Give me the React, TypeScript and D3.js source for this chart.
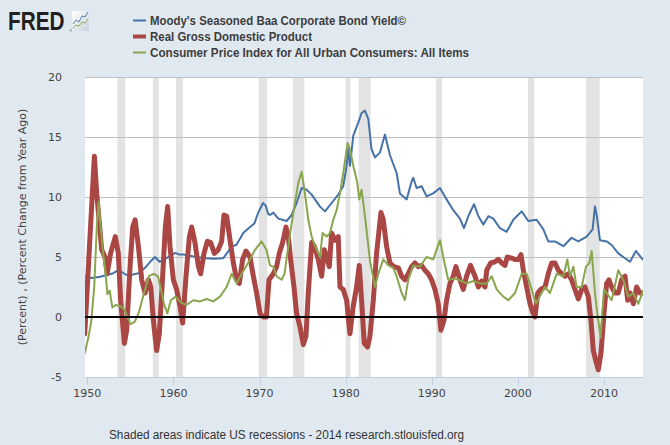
import React from "react";
import * as d3 from "d3";

const recessionStarts = [1953.5, 1957.6, 1960.3, 1969.9, 1973.85, 1980.0, 1981.5, 1990.5, 2001.17, 2007.92];
const recessionEnds = [1954.4, 1958.3, 1961.1, 1970.9, 1975.2, 1980.55, 1982.9, 1991.2, 2001.9, 2009.5];

const xTicks = [1950, 1960, 1970, 1980, 1990, 2000, 2010];
const yTicks = [-5, 0, 5, 10, 15, 20];

const legendLabels = [
  "Moody's Seasoned Baa Corporate Bond Yield\u00a9",
  "Real Gross Domestic Product",
  "Consumer Price Index for All Urban Consumers: All Items",
];

const baaSeries: [number, number][] = [
  [1949.65, 3.37], [1950.5, 3.25], [1951.5, 3.35], [1952.3, 3.5], [1953.0, 3.65], [1953.6, 3.9],
  [1954.57, 3.5], [1955.3, 3.55], [1955.93, 3.65], [1956.7, 4.1], [1957.3, 4.6], [1957.86, 5.0],
  [1958.4, 4.6], [1959.2, 4.9], [1960.2, 5.35], [1960.7, 5.2], [1961.15, 5.2], [1962.7, 5.0],
  [1963.8, 4.9], [1964.63, 4.85], [1965.79, 4.9], [1966.3, 5.4], [1966.76, 5.9], [1967.3, 6.0],
  [1967.8, 6.6], [1968.1, 7.0], [1968.89, 7.5], [1969.4, 7.8], [1969.85, 8.7], [1970.4, 9.5],
  [1970.7, 9.3], [1971.0, 8.6], [1971.21, 8.5], [1971.6, 8.7], [1972.18, 8.2], [1973.14, 8.0],
  [1973.73, 8.5], [1974.3, 9.5], [1974.89, 10.75], [1975.47, 10.6], [1976.05, 10.2], [1977.02, 9.2],
  [1977.6, 8.8], [1978.37, 9.5], [1979.14, 10.2], [1979.72, 10.9], [1980.1, 12.5], [1980.3, 14.0],
  [1980.5, 12.6], [1980.88, 15.1], [1981.46, 16.2], [1981.85, 17.0], [1982.24, 17.2], [1982.63, 16.5],
  [1983.0, 14.0], [1983.4, 13.3], [1983.98, 13.7], [1984.56, 15.2], [1985.14, 13.5], [1985.92, 12.0],
  [1986.3, 10.3], [1987.08, 9.8], [1987.66, 11.3], [1987.85, 11.6], [1988.24, 10.75], [1988.82, 10.9],
  [1989.4, 10.05], [1990.17, 10.3], [1990.95, 10.75], [1991.72, 9.8], [1992.5, 8.9], [1993.27, 8.2],
  [1993.74, 7.4], [1994.3, 8.5], [1994.91, 9.4], [1995.41, 8.4], [1995.99, 7.7], [1996.57, 8.4],
  [1997.15, 8.2], [1997.92, 7.4], [1998.7, 7.1], [1999.47, 8.1], [2000.44, 8.8], [2001.21, 8.0],
  [2002.18, 8.1], [2002.96, 7.3], [2003.53, 6.3], [2004.31, 6.3], [2005.28, 5.9], [2006.24, 6.6],
  [2007.02, 6.3], [2007.99, 6.7], [2008.68, 7.3], [2008.95, 9.2], [2009.15, 8.5], [2009.53, 6.4],
  [2010.31, 6.3], [2010.89, 6.0], [2011.66, 5.3], [2012.24, 5.0], [2013.02, 4.6], [2013.71, 5.5],
  [2014.49, 4.8],
];

const gdpSeries: [number, number][] = [
  [1949.7, -1.4], [1950.82, 13.4], [1951.09, 10.3], [1951.67, 5.6], [1952.05, 5.0], [1952.3, 3.6],
  [1952.7, 5.3], [1953.25, 6.7], [1953.6, 5.3], [1953.87, 1.4], [1954.3, -2.2], [1954.57, -1.1],
  [1954.96, 4.2], [1955.27, 7.5], [1955.55, 8.1], [1955.93, 5.9], [1956.32, 3.1], [1956.7, 2.0],
  [1957.1, 3.1], [1957.37, 2.5], [1957.67, -0.3], [1958.05, -2.8], [1958.36, -1.4], [1958.75, 3.4],
  [1959.06, 7.5], [1959.33, 9.2], [1959.6, 5.9], [1959.99, 3.1], [1960.37, 2.3], [1960.76, 0.9],
  [1961.07, -0.5], [1961.46, 3.4], [1961.85, 6.7], [1962.12, 7.5], [1962.5, 6.2], [1962.9, 4.2],
  [1963.16, 3.6], [1963.55, 5.3], [1963.94, 6.3], [1964.32, 6.2], [1964.75, 5.3], [1965.2, 5.6],
  [1965.6, 6.3], [1965.87, 8.5], [1966.18, 8.4], [1966.57, 6.4], [1966.96, 4.5], [1967.34, 3.1],
  [1967.65, 2.8], [1968.04, 4.8], [1968.42, 5.5], [1968.89, 5.0], [1969.28, 3.4], [1969.66, 2.0],
  [1970.05, 0.3], [1970.43, 0.0], [1970.8, 0.0], [1971.1, 3.1], [1971.6, 3.6], [1971.98, 4.2],
  [1972.29, 5.3], [1972.68, 6.2], [1973.07, 7.5], [1973.34, 6.7], [1973.61, 4.8], [1974.0, 2.5],
  [1974.3, 0.3], [1974.69, -0.8], [1975.08, -2.3], [1975.39, -1.6], [1975.66, 2.0], [1976.05, 6.2],
  [1976.36, 5.9], [1976.82, 4.8], [1977.21, 3.4], [1977.52, 5.6], [1977.79, 5.0], [1978.1, 4.2],
  [1978.37, 7.0], [1978.76, 6.4], [1979.14, 6.7], [1979.34, 2.5], [1979.72, 2.3], [1980.11, 1.4],
  [1980.5, -1.4], [1980.88, 0.9], [1981.27, 2.5], [1981.58, 4.3], [1981.85, 1.4], [1982.16, -2.2],
  [1982.55, -2.5], [1982.82, -1.6], [1983.21, 1.4], [1983.59, 5.3], [1984.1, 8.7], [1984.37, 8.1],
  [1984.75, 5.9], [1985.14, 4.5], [1985.6, 4.2], [1986.11, 4.1], [1986.5, 3.4], [1986.88, 3.1],
  [1987.27, 3.6], [1987.66, 4.2], [1988.04, 4.5], [1988.43, 4.2], [1988.82, 4.3], [1989.2, 3.9],
  [1989.59, 3.6], [1989.98, 3.1], [1990.37, 2.3], [1990.75, 1.1], [1991.06, -1.1], [1991.41, -0.3],
  [1991.72, 1.4], [1992.11, 2.8], [1992.5, 3.4], [1992.8, 4.2], [1993.27, 3.1], [1993.66, 2.3],
  [1994.04, 3.4], [1994.5, 4.3], [1995.02, 3.4], [1995.41, 2.5], [1995.8, 3.0], [1996.18, 2.5],
  [1996.38, 3.9], [1996.84, 4.5], [1997.34, 4.6], [1997.73, 4.8], [1998.12, 4.5], [1998.5, 4.3],
  [1998.77, 5.0], [1999.28, 4.9], [1999.67, 4.8], [2000.05, 4.8], [2000.36, 5.2], [2000.63, 3.9],
  [2001.02, 2.5], [2001.41, 1.1], [2001.72, 0.4], [2001.99, 0.0], [2002.3, 2.0], [2002.65, 2.3],
  [2003.15, 2.5], [2003.53, 3.6], [2003.92, 4.5], [2004.31, 4.5], [2004.7, 3.9], [2005.08, 3.6],
  [2005.47, 3.4], [2005.86, 3.6], [2006.24, 3.1], [2006.63, 2.3], [2007.02, 1.5], [2007.41, 2.3],
  [2007.79, 2.5], [2008.18, 1.7], [2008.49, -0.3], [2008.76, -2.8], [2009.03, -3.6], [2009.34, -4.4],
  [2009.65, -3.0], [2010.0, 0.3], [2010.31, 2.8], [2010.58, 3.1], [2010.89, 2.5], [2011.28, 2.0],
  [2011.66, 2.0], [2012.05, 3.1], [2012.44, 3.4], [2012.75, 1.4], [2013.02, 2.0], [2013.41, 1.1],
  [2013.79, 2.5], [2014.18, 2.0], [2014.49, 2.0],
];

const cpiSeries: [number, number][] = [
  [1949.7, -3.0], [1950.1, -1.8], [1950.45, -0.4], [1950.8, 2.5], [1951.1, 7.5], [1951.3, 9.6],
  [1951.55, 7.5], [1951.8, 5.5], [1952.1, 3.8], [1952.33, 1.9], [1952.6, 2.2], [1952.9, 0.8],
  [1953.3, 1.0], [1953.9, 0.9], [1954.3, 0.6], [1954.65, 0.0], [1955.03, -0.6], [1955.5, -0.4],
  [1956.0, 0.4], [1956.5, 1.8], [1957.16, 3.4], [1957.7, 3.6], [1958.2, 3.4], [1958.5, 2.5],
  [1958.9, 1.1], [1959.29, 0.3], [1959.7, 1.4], [1960.26, 1.7], [1960.9, 1.2], [1961.5, 1.0],
  [1962.3, 1.4], [1963.08, 1.3], [1963.86, 1.5], [1964.63, 1.3], [1965.4, 1.7], [1966.18, 2.5],
  [1966.76, 3.6], [1967.34, 2.8], [1967.92, 3.6], [1968.5, 4.3], [1968.89, 4.8], [1969.47, 5.6],
  [1970.24, 6.3], [1970.8, 5.6], [1971.21, 4.3], [1971.6, 4.2], [1971.98, 3.4], [1972.56, 3.1],
  [1972.9, 3.6], [1973.34, 5.9], [1973.73, 7.8], [1974.11, 9.5], [1974.5, 11.2], [1974.89, 12.1],
  [1975.27, 10.3], [1975.66, 8.1], [1976.05, 6.7], [1976.63, 5.6], [1977.02, 5.0], [1977.32, 7.0],
  [1977.79, 6.7], [1978.18, 7.0], [1978.56, 8.1], [1978.95, 8.9], [1979.34, 10.3], [1979.72, 12.0],
  [1980.23, 14.5], [1980.5, 14.0], [1980.88, 12.6], [1981.35, 11.2], [1981.58, 9.8], [1981.85, 10.6],
  [1982.24, 8.4], [1982.51, 6.7], [1982.82, 4.7], [1983.4, 2.5], [1983.79, 3.6], [1984.37, 4.8],
  [1984.95, 4.3], [1985.53, 4.1], [1985.92, 3.4], [1986.5, 2.0], [1986.88, 1.4], [1987.27, 3.1],
  [1987.85, 4.3], [1988.62, 4.2], [1989.4, 5.0], [1990.17, 4.8], [1990.95, 6.4], [1991.33, 5.0],
  [1991.91, 3.1], [1992.69, 3.2], [1993.46, 3.0], [1994.05, 2.8], [1994.83, 3.0], [1995.6, 2.8],
  [1996.38, 2.8], [1996.96, 3.4], [1997.54, 2.3], [1998.31, 1.7], [1998.89, 1.4], [1999.67, 2.0],
  [2000.44, 3.6], [2001.02, 3.6], [2001.6, 2.3], [2002.1, 1.1], [2002.76, 2.0], [2003.15, 2.5],
  [2003.73, 2.0], [2004.5, 3.6], [2005.28, 3.4], [2005.74, 4.8], [2006.05, 3.4], [2006.44, 4.2],
  [2006.82, 2.5], [2007.41, 2.5], [2007.91, 4.2], [2008.3, 4.5], [2008.57, 5.5], [2008.95, 2.0],
  [2009.22, 0.3], [2009.61, -1.7], [2010.0, 2.3], [2010.31, 2.0], [2010.89, 1.4], [2011.66, 3.9],
  [2012.24, 3.1], [2012.82, 1.7], [2013.41, 2.0], [2013.99, 1.1], [2014.49, 2.1],
];

const W = 670;
const H = 445;
const plotL = 85;
const plotR = 643;
const plotT = 77;
const plotB = 377;

const BG = "#E1E9F0";
const COLORS = ["#4572A7", "#AA4643", "#89A54E"];
const WIDTHS = [2, 5, 2];
const LEGEND_WIDTHS = [256, 162, 319];

export default function App() {
  const x = d3.scaleLinear().domain([1949.73, 2014.53]).range([plotL, plotR]);
  const y = d3.scaleLinear().domain([-5, 20]).range([plotB, plotT]);
  const line = d3
    .line<[number, number]>()
    .x((d) => x(d[0]))
    .y((d) => y(d[1]));

  const series = [baaSeries, gdpSeries, cpiSeries];
  const axisFont = "'DejaVu Sans', sans-serif";

  return (
    <svg
      width={W}
      height={H}
      style={{ position: "absolute", left: 0, top: 0, display: "block" }}
      xmlns="http://www.w3.org/2000/svg"
    >
      <defs>
        <clipPath id="plotClip">
          <rect x={plotL} y={plotT} width={plotR - plotL} height={plotB - plotT} />
        </clipPath>
        <linearGradient id="iconGrad" x1="0" y1="0" x2="1" y2="1">
          <stop offset="0" stopColor="#ffffff" />
          <stop offset="1" stopColor="#c9d3dc" />
        </linearGradient>
      </defs>
      <rect x={0} y={0} width={W} height={H} fill={BG} />

      {/* FRED logo */}
      <text
        transform="translate(8,30) scale(0.83,1)"
        fontFamily="'Liberation Sans', Arial, sans-serif"
        fontWeight="bold"
        fontSize={25}
        fill="#231f20"
      >
        FRED
      </text>
      <text x={69.5} y={32} fontFamily="'Liberation Sans', sans-serif" fontSize={4} fill="#231f20">
        ®
      </text>
      <rect x={72} y={11} width={17} height={20} fill="url(#iconGrad)" />
      <polyline points="73,24 76,20 79,22 82,16 85,17 88,12" fill="none" stroke="#5a7fb5" strokeWidth={1} />
      <polyline points="73,28 76,25 79,26 82,22 85,23 88,19" fill="none" stroke="#8aa84f" strokeWidth={1} />

      {/* Legend */}
      {legendLabels.map((lab, i) => (
        <g key={lab}>
          <line
            x1={133}
            x2={146}
            y1={20.5 + i * 16}
            y2={20.5 + i * 16}
            stroke={COLORS[i]}
            strokeWidth={i === 1 ? 4 : 2}
          />
          <text
            x={150}
            y={25 + i * 16}
            fontFamily="'Liberation Sans', Arial, sans-serif"
            fontWeight="bold"
            fontSize={13}
            fill="#3d3d3d"
            textLength={LEGEND_WIDTHS[i]}
            lengthAdjust="spacingAndGlyphs"
          >
            {lab}
          </text>
        </g>
      ))}

      {/* Plot background */}
      <rect x={plotL} y={plotT} width={plotR - plotL} height={plotB - plotT} fill="#ffffff" />

      {/* Recessions */}
      {recessionStarts.map((s, i) => (
        <rect
          key={s}
          x={x(s)}
          y={plotT}
          width={x(recessionEnds[i]) - x(s)}
          height={plotB - plotT}
          fill="#E3E3E3"
        />
      ))}

      {/* Grid lines */}
      {yTicks
        .filter((t) => t > -5)
        .map((t) => (
          <line key={t} x1={plotL} x2={plotR} y1={Math.round(y(t)) + 0.5} y2={Math.round(y(t)) + 0.5} stroke="#C0C0C0" strokeWidth={1} />
        ))}

      {/* X axis line & ticks */}
      <line x1={plotL} x2={plotR} y1={plotB + 0.5} y2={plotB + 0.5} stroke="#C0D0E0" strokeWidth={1} />
      {xTicks.map((t) => (
        <g key={t}>
          <line x1={Math.round(x(t)) + 0.5} x2={Math.round(x(t)) + 0.5} y1={plotB} y2={plotB + 8} stroke="#C0D0E0" strokeWidth={1} />
          <text x={x(t)} y={397} textAnchor="middle" fontFamily={axisFont} fontSize={11} fill="#444">
            {t}
          </text>
        </g>
      ))}

      {/* Y tick labels */}
      {yTicks.map((t) => (
        <text key={t} x={62} y={y(t) + 4} textAnchor="end" fontFamily={axisFont} fontSize={11} fill="#444">
          {t}
        </text>
      ))}

      {/* Y axis title */}
      <text
        transform={`translate(26, ${(plotT + plotB) / 2}) rotate(-90)`}
        textAnchor="middle"
        fontFamily={axisFont}
        fontSize={11}
        fill="#444"
      >
        (Percent) , (Percent Change from Year Ago)
      </text>

      {/* Series */}
      <g clipPath="url(#plotClip)">
        {series.map((s, i) => (
          <path
            key={i}
            d={line(s) || ""}
            fill="none"
            stroke={COLORS[i]}
            strokeWidth={WIDTHS[i]}
            strokeLinejoin="round"
            strokeLinecap="round"
          />
        ))}
        {/* zero line */}
        <line x1={plotL} x2={plotR} y1={y(0)} y2={y(0)} stroke="#000" strokeWidth={2} />
      </g>

      {/* Footer */}
      <text
        x={109}
        y={439}
        fontFamily="'Liberation Sans', Arial, sans-serif"
        fontSize={12}
        fill="#333"
        textLength={355}
        lengthAdjust="spacingAndGlyphs"
      >
        Shaded areas indicate US recessions - 2014 research.stlouisfed.org
      </text>
    </svg>
  );
}
